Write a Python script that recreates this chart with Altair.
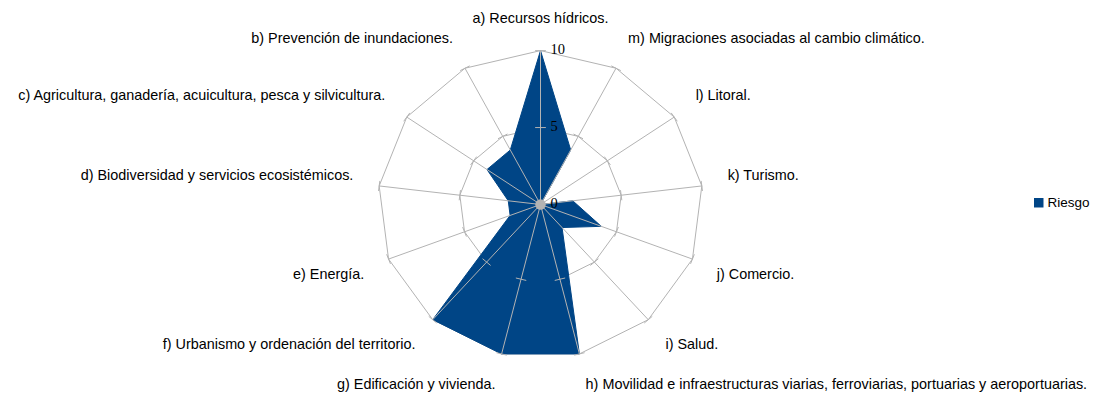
import math
import altair as alt
import pandas as pd

# ---------------- data ----------------
categories = [
    "a) Recursos hídricos.",
    "b) Prevención de inundaciones.",
    "c) Agricultura, ganadería, acuicultura, pesca y silvicultura.",
    "d) Biodiversidad y servicios ecosistémicos.",
    "e) Energía.",
    "f) Urbanismo y ordenación del territorio.",
    "g) Edificación y vivienda.",
    "h) Movilidad e infraestructuras viarias, ferroviarias, portuarias y aeroportuarias.",
    "i) Salud.",
    "j) Comercio.",
    "k) Turismo.",
    "l) Litoral.",
    "m) Migraciones asociadas al cambio climático.",
]
riesgo = [10, 4, 4, 2, 2, 10, 10, 10, 2, 4, 2, 0, 4]
series_name = "Riesgo"
grid_levels = [5, 10]
axis_ticks = [0, 5, 10]
axis_max = 10

# ---------------- layout constants ----------------
W, H = 1085, 385
CX, CY = 532.5, 196.5          # centre of radar in svg pixels
PX_X, PX_Y = 16.25, 15.39      # pixels per unit
LABEL_R = 11.6
TICK_HALF = 0.33
BLUE = "#004586"
GRID = "#b3b3b3"
FONT = "Liberation Sans"

x_dom = [-CX / PX_X, (W - CX) / PX_X]
y_dom = [-(H - CY) / PX_Y, CY / PX_Y]

n = len(categories)
step = 2 * math.pi / n
angles = [-i * step for i in range(n)]

# ---------------- derived tables ----------------
poly = pd.DataFrame({
    "cat": categories,
    "serie": series_name,
    "order": list(range(n)),
    "x": [v * math.sin(a) for v, a in zip(riesgo, angles)],
    "y": [v * math.cos(a) for v, a in zip(riesgo, angles)],
})

rings = pd.DataFrame([
    {"level": L, "order": i, "x": L * math.sin(a), "y": L * math.cos(a)}
    for L in grid_levels for i, a in enumerate(angles)
])

spokes = pd.DataFrame({
    "x": [0.0] * n, "y": [0.0] * n,
    "x2": [axis_max * math.sin(a) for a in angles],
    "y2": [axis_max * math.cos(a) for a in angles],
})

ticks = pd.DataFrame([
    {"x": L * math.sin(a) - TICK_HALF * math.cos(a),
     "y": L * math.cos(a) + TICK_HALF * math.sin(a),
     "x2": L * math.sin(a) + TICK_HALF * math.cos(a),
     "y2": L * math.cos(a) - TICK_HALF * math.sin(a)}
    for L in grid_levels for a in angles
])

labels = []
for c, a in zip(categories, angles):
    s, co = math.sin(a), math.cos(a)
    align = "center" if abs(s) < 0.05 else ("left" if s > 0 else "right")
    base = "bottom" if co > 0 else "top"
    labels.append({"cat": c, "x": LABEL_R * s, "y": LABEL_R * co,
                   "align": align, "base": base})
labels = pd.DataFrame(labels)

tick_labels = pd.DataFrame({"v": axis_ticks, "x": [0.0] * len(axis_ticks),
                            "txt": [str(t) for t in axis_ticks]})
centre = pd.DataFrame({"x": [0.0], "y": [0.0]})

xs = alt.Scale(domain=x_dom, nice=False, zero=False)
ys = alt.Scale(domain=y_dom, nice=False, zero=False)
X = lambda f="x": alt.X(f, type="quantitative", scale=xs, axis=None)
Y = lambda f="y": alt.Y(f, type="quantitative", scale=ys, axis=None)

ring_layer = alt.Chart(rings).mark_line(
    interpolate="linear-closed", stroke=GRID, strokeWidth=1
).encode(x=X(), y=Y(), detail="level:N", order="order:Q")

poly_layer = alt.Chart(poly).mark_line(
    interpolate="linear-closed", stroke=BLUE, strokeWidth=1
).encode(
    x=X(), y=Y(), order="order:Q",
    fill=alt.Fill("serie:N", scale=alt.Scale(domain=[series_name], range=[BLUE]),
                  legend=alt.Legend(title=None, orient="none", legendX=1024, legendY=188,
                                    symbolType="square", symbolSize=90,
                                    symbolStrokeWidth=0, padding=0, labelOffset=2,
                                    labelFont=FONT, labelFontSize=13.5,
                                    labelColor="#000000")),
)

spoke_layer = alt.Chart(spokes).mark_rule(color=GRID, strokeWidth=1).encode(
    x=X(), y=Y(), x2="x2:Q", y2="y2:Q")

tick_layer = alt.Chart(ticks).mark_rule(color=GRID, strokeWidth=1).encode(
    x=X(), y=Y(), x2="x2:Q", y2="y2:Q")

centre_layer = alt.Chart(centre).mark_point(
    filled=True, shape="circle", size=110, color=GRID, opacity=1
).encode(x=X(), y=Y())

label_layers = []
for al in ["left", "right", "center"]:
    for bl in ["top", "bottom"]:
        sub = labels[(labels["align"] == al) & (labels["base"] == bl)]
        if len(sub) == 0:
            continue
        label_layers.append(
            alt.Chart(sub).mark_text(align=al, baseline=bl, font=FONT, fontSize=14.4,
                                     color="#000000")
            .encode(x=X(), y=Y(), text="cat:N"))

tick_text = alt.Chart(tick_labels).mark_text(
    align="left", baseline="middle", dx=10, dy=-1, font="Liberation Serif", fontSize=14.5,
    color="#000000"
).encode(x=X(), y=Y("v"), text="txt:N")

chart = alt.layer(
    ring_layer, poly_layer, spoke_layer, tick_layer, centre_layer, *label_layers, tick_text
).properties(
    width=W, height=H, autosize=alt.AutoSizeParams(type="none"), padding=0,
    background="white",
).configure_view(stroke=None)

chart.save("out.html", embed_options={"renderer": "svg", "actions": False})
